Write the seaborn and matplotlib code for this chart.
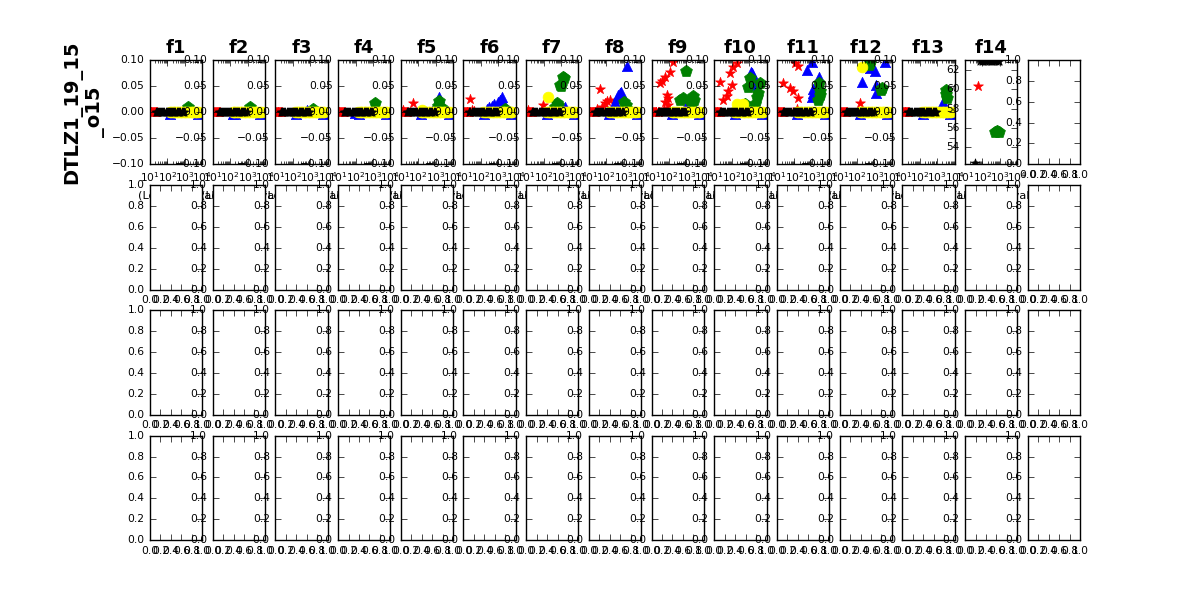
import matplotlib
matplotlib.use("Agg")
import matplotlib.pyplot as plt
import seaborn as sns

# functions shown in the first row
TITLES = ["f1", "f2", "f3", "f4", "f5", "f6", "f7", "f8", "f9", "f10", "f11", "f12", "f13", "f14"]
ROW_LABEL = "DTLZ1_19_15\n_o15"
X_LABEL = "(Log) Interval"

# points lying on the zero line (same in f1..f13)
RED_BASE_X = [10, 11, 12, 13.5, 15, 17, 19, 22, 25]
BLACK_BASE_X = [22, 25, 29, 33, 38, 44, 51, 59, 68, 79, 91, 105, 120, 140,
                160, 185, 215, 250, 290, 340, 400, 470, 550, 650, 760, 880]
YELLOW_BASE_X = [140, 170, 200, 240, 290, 350, 420, 500, 600, 720, 860, 1030, 1240,
                 1480, 1780, 2130, 2560, 3070, 3680, 4420, 5300, 6400]
BLUE_BASE_X = [150, 5500]
BLUE_BASE_Y = [-0.003, -0.004]

# extra points off the zero line, one list per function f1..f13
RED_X = [[], [], [], [],
         [52, 13],
         [23.6, 30, 40],
         [95, 12],
         [43, 80, 105, 160, 30, 60],
         [178, 115, 59, 38, 31, 74, 91, 59, 91, 50],
         [195, 124, 80, 100, 64, 51, 33, 21],
         [107, 166, 23, 87, 166, 135, 56],
         [148],
         []]
RED_Y = [[], [], [], [],
         [0.017, 0.004],
         [0.0246, 0.005, 0.003],
         [0.014, 0.005],
         [0.044, 0.017, 0.022, 0.023, 0.006, 0.01],
         [0.0956, 0.0776, 0.068, 0.06, 0.056, 0.033, 0.027, 0.02, 0.014, 0.007],
         [0.094, 0.087, 0.0745, 0.052, 0.04, 0.031, 0.024, 0.058],
         [0.094, 0.088, 0.056, 0.04, 0.027, 0.007, 0.046],
         [0.017],
         []]

BLUE_X = [[],
          [200],
          [630],
          [95],
          [1620, 1200, 900, 2500, 600],
          [215, 300, 420, 600, 900, 1200, 1550, 1900],
          [1600, 600],
          [1480, 480, 740, 400, 600, 330],
          [1000, 1800, 2300],
          [1400, 1750, 2000, 1250],
          [970, 510, 2700, 1900, 1230, 970, 1100],
          [550, 1070, 4000, 182, 1300, 1300],
          [2050, 2100]]
BLUE_Y = [[],
          [-0.003],
          [0.005],
          [-0.002],
          [0.03, 0.012, 0.008, 0.005, 0.003],
          [0.006, 0.009, 0.012, 0.015, 0.019, 0.024, 0.03, 0.02],
          [0.01, 0.005],
          [0.089, 0.032, 0.039, 0.028, 0.036, 0.02],
          [0.012, 0.015, 0.01],
          [0.0745, 0.068, 0.052, 0.077],
          [0.097, 0.081, 0.068, 0.052, 0.045, 0.03, 0.036],
          [0.085, 0.079, 0.096, 0.057, 0.052, 0.036],
          [0.02, 0.013]]

GREEN_X = [[1600],
           [1400],
           [1500],
           [1300],
           [1650, 1400, 2200],
           [2300],
           [1350, 1500, 870, 1000, 560, 640, 480],
           [1000, 1300, 1600],
           [1000, 2450, 2800, 1580, 427, 660, 2000],
           [1120, 900, 4200, 3400, 2700, 2200, 580],
           [2700, 2950, 2350, 2800],
           [550, 500, 2570, 2450],
           [3200, 3450, 3300]]
GREEN_Y = [[0.009],
           [0.01],
           [0.006],
           [0.017],
           [0.022, 0.012, 0.008],
           [0.006],
           [0.068, 0.066, 0.052, 0.05, 0.017, 0.014, 0.01],
           [0.02, 0.013, 0.006],
           [0.079, 0.031, 0.024, 0.024, 0.024, 0.027, 0.018],
           [0.066, 0.049, 0.055, 0.037, 0.03, 0.016, 0.015],
           [0.055, 0.033, 0.024, 0.04],
           [0.094, 0.09, 0.046, 0.043],
           [0.0425, 0.027, 0.035]]

YELLOW_X = [[], [], [], [], [170], [], [185], [], [], [195, 460], [], [182], []]
YELLOW_Y = [[], [], [], [], [0.005], [], [0.03], [], [], [0.015, 0.015], [], [0.086], []]

# f14 has its own y range
F14_BLACK_X = [72, 90, 110, 140, 180, 230, 290, 370, 470, 600, 760, 950, 37]
F14_BLACK_Y = [62.9, 62.9, 62.9, 62.9, 62.9, 62.9, 62.9, 62.9, 62.9, 62.9, 62.9, 62.9, 52.35]
F14_RED_X = [57]
F14_RED_Y = [60.3]
F14_GREEN_X = [500, 650, 850]
F14_GREEN_Y = [55.6, 55.65, 55.6]
F14_YLIM = (52.2, 63.05)

plt.style.use("classic")
plt.rcParams["font.family"] = ["DejaVu Sans"]
plt.rcParams["xtick.labelsize"] = 7.7
plt.rcParams["ytick.labelsize"] = 7.7


def dots(ax, x, y, marker, color, size):
    if len(x) == 0:
        return
    sns.scatterplot(x=x, y=y, marker=marker, color=color, s=size,
                    edgecolor=color, linewidth=0.5, ax=ax, legend=False)


fig, axes = plt.subplots(4, 15, figsize=(12, 6), dpi=100)
fig.patch.set_facecolor("white")

for i, name in enumerate(TITLES):
    ax = axes[0, i]
    ax.set_xscale("log")
    if i < 13:
        dots(ax, RED_BASE_X + RED_X[i], [0.0] * len(RED_BASE_X) + RED_Y[i], "*", "red", 55)
        dots(ax, BLUE_BASE_X + BLUE_X[i], BLUE_BASE_Y + BLUE_Y[i], "^", "blue", 55)
        dots(ax, GREEN_X[i], GREEN_Y[i], "p", "green", 80)
        dots(ax, YELLOW_BASE_X + YELLOW_X[i], [0.0] * len(YELLOW_BASE_X) + YELLOW_Y[i], "o", "yellow", 60)
        dots(ax, BLACK_BASE_X, [0.0] * len(BLACK_BASE_X), "*", "black", 45)
        ax.set_ylim(-0.1, 0.1)
    else:
        dots(ax, F14_RED_X, F14_RED_Y, "*", "red", 55)
        dots(ax, F14_GREEN_X, F14_GREEN_Y, "p", "green", 80)
        dots(ax, F14_BLACK_X, F14_BLACK_Y, "*", "black", 45)
        ax.set_ylim(*F14_YLIM)
    ax.set_xlim(10, 1e4)
    ax.set_title(name, fontsize=13, fontweight="bold")
    ax.set_xlabel(X_LABEL, fontsize=8.2)
    ax.set_ylabel("")

axes[0, 0].set_ylabel(ROW_LABEL, fontsize=14, fontweight="bold")

fig.savefig("out.png", dpi=100, facecolor="white")
